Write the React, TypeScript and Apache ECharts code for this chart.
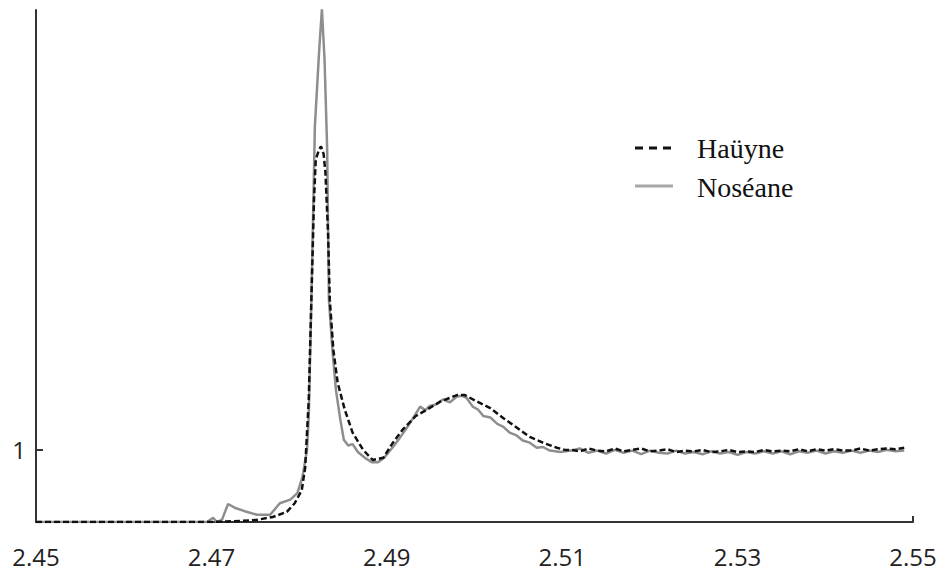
import React, { useEffect, useRef } from "react";
import * as echarts from "echarts";

// X tick labels (keV) and Y tick label
const xTicks = [2.45, 2.47, 2.49, 2.51, 2.53, 2.55];
const yTicks = [1];

// Haüyne — edge / peak / hump region
const hauyneEnergy = [
  2.45, 2.46, 2.47, 2.4713, 2.4733, 2.4752, 2.477, 2.4786, 2.4795, 2.4803,
  2.4807, 2.4809, 2.4811, 2.4814, 2.4817, 2.4819, 2.4823, 2.4825, 2.4828, 2.483,
  2.4833, 2.4835, 2.4839, 2.4844, 2.4852, 2.4861, 2.4873, 2.4884, 2.4896, 2.4907,
  2.4918, 2.4933, 2.4946, 2.4961, 2.498, 2.4989, 2.5003, 2.5018, 2.5033, 2.5048,
  2.5063, 2.5078, 2.5094, 2.5103,
];
const hauyneIntensity = [
  0, 0, 0, 0.005, 0.014, 0.03, 0.07, 0.14, 0.26, 0.44,
  0.76, 1.24, 1.69, 3.08, 4.47, 5.03, 5.17, 5.21, 5.1, 4.85,
  4.01, 3.08, 2.39, 1.93, 1.56, 1.24, 1.0, 0.86, 0.89, 1.1,
  1.28, 1.47, 1.56, 1.67, 1.76, 1.76, 1.67, 1.58, 1.44, 1.31,
  1.18, 1.1, 1.03, 1.0,
];

// Noséane — edge / peak / hump region
const noseaneEnergy = [
  2.45, 2.46, 2.4695, 2.4702, 2.4706, 2.4712, 2.4719, 2.4728, 2.4738, 2.4752,
  2.4767, 2.4778, 2.479, 2.4798, 2.4804, 2.4809, 2.4811, 2.4814, 2.4818, 2.4823,
  2.4826, 2.4829, 2.4832, 2.4834, 2.4838, 2.4842, 2.4847, 2.4851, 2.4856, 2.4861,
  2.4867, 2.4875, 2.4883, 2.489, 2.4897, 2.4907, 2.4915, 2.4923, 2.493, 2.4938,
  2.4944, 2.4949, 2.4956, 2.4964, 2.4972, 2.498, 2.4986, 2.4991, 2.4998, 2.5004,
  2.501, 2.5018, 2.5026, 2.5033, 2.504, 2.5048, 2.5055, 2.5063, 2.5071, 2.5078,
  2.5086, 2.5098,
];
const noseaneIntensity = [
  0, 0, 0, 0.06, 0, 0.03, 0.25, 0.19, 0.15, 0.1,
  0.1, 0.26, 0.31, 0.4, 0.63, 1.0, 1.46, 3.08, 5.49, 6.56,
  7.11, 6.42, 5.17, 3.08, 2.39, 1.83, 1.42, 1.14, 1.06, 1.08,
  0.97, 0.89, 0.83, 0.83, 0.89, 1.04, 1.17, 1.31, 1.44, 1.6,
  1.55, 1.61, 1.63, 1.7, 1.66, 1.74, 1.75, 1.72, 1.6, 1.56,
  1.47, 1.45, 1.36, 1.32, 1.24, 1.2, 1.13, 1.1, 1.03, 1.04,
  0.99, 0.97,
];

// Post-edge (flat) region, shared energies
const flatEnergy = [
  2.511, 2.512, 2.513, 2.514, 2.515, 2.516, 2.517, 2.518, 2.519, 2.52,
  2.521, 2.522, 2.523, 2.524, 2.525, 2.526, 2.527, 2.528, 2.529, 2.53,
  2.531, 2.532, 2.533, 2.534, 2.535, 2.536, 2.537, 2.538, 2.539, 2.54,
  2.541, 2.542, 2.543, 2.544, 2.545, 2.546, 2.547, 2.548, 2.549,
];
const hauyneFlat = [
  1.0, 0.98, 1.02, 0.99, 0.98, 1.02, 0.98, 1.0, 1.02, 0.98,
  0.99, 1.01, 0.97, 0.99, 0.98, 1.0, 0.97, 0.98, 1.0, 0.97,
  0.98, 0.97, 1.0, 0.98, 0.99, 0.98, 1.01, 0.98, 1.01, 0.99,
  1.01, 0.99, 0.99, 1.02, 0.99, 1.01, 1.02, 1.01, 1.03,
];
const noseaneFlat = [
  0.99, 1.02, 0.96, 0.99, 0.95, 1.0, 0.96, 0.99, 0.94, 0.99,
  0.96, 0.95, 0.99, 0.95, 0.97, 0.94, 0.98, 0.95, 0.97, 0.93,
  0.97, 0.95, 0.98, 0.95, 0.98, 0.94, 0.98, 0.96, 0.99, 0.95,
  0.98, 0.96, 0.99, 0.96, 0.99, 0.97, 1.0, 0.98, 0.99,
];

const seriesNames = ["Haüyne", "Noséane"];

function pairs(xs: number[], ys: number[]) {
  return xs.map((x, i) => [x, ys[i]]);
}

export default function App() {
  const ref = useRef<HTMLDivElement>(null);
  useEffect(() => {
    if (!ref.current) return;
    const chart = echarts.init(ref.current, null, { renderer: "svg" });
    const hauyneData = pairs(hauyneEnergy, hauyneIntensity).concat(pairs(flatEnergy, hauyneFlat));
    const noseaneData = pairs(noseaneEnergy, noseaneIntensity).concat(pairs(flatEnergy, noseaneFlat));
    const axisColor = "#333333";
    const labelFont = {
      fontFamily: "'Open Sans', sans-serif",
      fontSize: 24,
      lineHeight: 24,
      color: "#222222",
    };
    chart.setOption({
      animation: false,
      backgroundColor: "#ffffff",
      grid: { left: 36, right: 34, top: 10, bottom: 49, containLabel: false },
      xAxis: {
        type: "value",
        min: 2.45,
        max: 2.55,
        axisLine: { show: true, onZero: false, lineStyle: { color: axisColor, width: 2 } },
        axisTick: {
          show: true,
          inside: true,
          length: 6,
          customValues: [2.55],
          lineStyle: { color: axisColor, width: 2 },
        },
        axisLabel: {
          ...labelFont,
          margin: 22,
          customValues: xTicks,
          formatter: (v: number) => v.toFixed(2),
        },
        splitLine: { show: false },
      },
      yAxis: {
        type: "value",
        min: 0,
        max: 7.1,
        axisLine: { show: true, onZero: false, lineStyle: { color: axisColor, width: 2 } },
        axisTick: {
          show: true,
          inside: true,
          length: 7,
          customValues: yTicks,
          lineStyle: { color: axisColor, width: 2 },
        },
        axisLabel: {
          ...labelFont,
          margin: 10,
          customValues: yTicks,
          formatter: (v: number) => String(v),
        },
        splitLine: { show: false },
      },
      series: [
        {
          name: seriesNames[1],
          type: "line",
          data: noseaneData,
          showSymbol: false,
          symbol: "none",
          lineStyle: { color: "#8e8e8e", width: 2.5 },
          z: 2,
        },
        {
          name: seriesNames[0],
          type: "line",
          data: hauyneData,
          showSymbol: false,
          symbol: "none",
          lineStyle: { color: "#111111", width: 2.5, type: [6, 3] },
          z: 3,
        },
      ],
      graphic: [
        {
          type: "line",
          shape: { x1: 635, y1: 148, x2: 673, y2: 148 },
          style: { stroke: "#111111", lineWidth: 3, lineDash: [8, 6] },
        },
        {
          type: "text",
          x: 697,
          y: 148,
          style: {
            text: seriesNames[0],
            fontFamily: "'Liberation Serif', 'Times New Roman', serif",
            fontSize: 28,
            fill: "#111111",
            verticalAlign: "middle",
            align: "left",
          },
        },
        {
          type: "line",
          shape: { x1: 635, y1: 186, x2: 673, y2: 186 },
          style: { stroke: "#a8a8a8", lineWidth: 3 },
        },
        {
          type: "text",
          x: 697,
          y: 187,
          style: {
            text: seriesNames[1],
            fontFamily: "'Liberation Serif', 'Times New Roman', serif",
            fontSize: 28,
            fill: "#111111",
            verticalAlign: "middle",
            align: "left",
          },
        },
      ],
    });
    return () => chart.dispose();
  }, []);
  return (
    <div
      ref={ref}
      style={{ position: "absolute", left: 0, top: 0, width: 947, height: 571 }}
    />
  );
}
